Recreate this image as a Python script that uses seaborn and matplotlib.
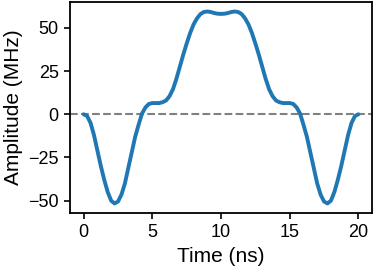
import numpy as np
import pandas as pd
import seaborn as sns
import matplotlib
matplotlib.use('Agg')
import matplotlib.pyplot as plt

# time axis (ns) and pulse amplitude (MHz)
time_ns = np.arange(0, 20.01, 0.25)
amplitude_mhz = [
    0.0, -1.0, -5.0, -12.0, -21.0, -30.0, -38.0, -45.0, -50.0, -51.6,
    -50.5, -46.5, -40.0, -31.0, -22.0, -13.0, -6.0, 0.5, 4.0, 6.0,
    6.5, 6.5, 6.5, 7.0, 8.0, 10.5, 14.5, 20.5, 27.5, 34.5,
    41.0, 47.0, 52.0, 55.5, 58.0, 59.2, 59.5, 59.2, 58.6, 58.2,
    58.1,
    58.2, 58.6, 59.2, 59.5, 59.2, 58.0, 55.5, 52.0, 47.0, 41.0,
    34.5, 27.5, 20.5, 14.5, 10.5, 8.0, 7.0, 6.5, 6.5, 6.5,
    6.0, 4.0, 0.5, -6.0, -13.0, -22.0, -31.0, -40.0, -46.5, -50.5,
    -51.6, -50.0, -45.0, -38.0, -30.0, -21.0, -12.0, -5.0, -1.0, 0.0,
]
x_ticks = [0, 5, 10, 15, 20]
y_ticks = [-50, -25, 0, 25, 50]

df = pd.DataFrame({'t': time_ns, 'amp': amplitude_mhz})

sns.set_style('ticks')
plt.rcParams['font.family'] = ['Liberation Sans', 'DejaVu Sans']
plt.rcParams['axes.edgecolor'] = 'black'
plt.rcParams['xtick.color'] = 'black'
plt.rcParams['ytick.color'] = 'black'
plt.rcParams['text.color'] = 'black'
plt.rcParams['axes.labelcolor'] = 'black'

fig, ax = plt.subplots(figsize=(3.74, 2.69), dpi=100)
ax.axhline(0, color='gray', linestyle='--', linewidth=1.5, zorder=1)
sns.lineplot(data=df, x='t', y='amp', color='#1f77b4', linewidth=2.8, ax=ax, zorder=2)

ax.set_xticks(x_ticks)
ax.set_yticks(y_ticks)
ax.tick_params(labelsize=13, width=1.2, length=4.5)
ax.set_xlabel('Time (ns)', fontsize=15)
ax.set_ylabel('Amplitude (MHz)', fontsize=15)
for s in ax.spines.values():
    s.set_linewidth(1.3)

fig.subplots_adjust(left=0.187, right=0.995, top=0.993, bottom=0.208)
fig.savefig('out.png', dpi=100)
